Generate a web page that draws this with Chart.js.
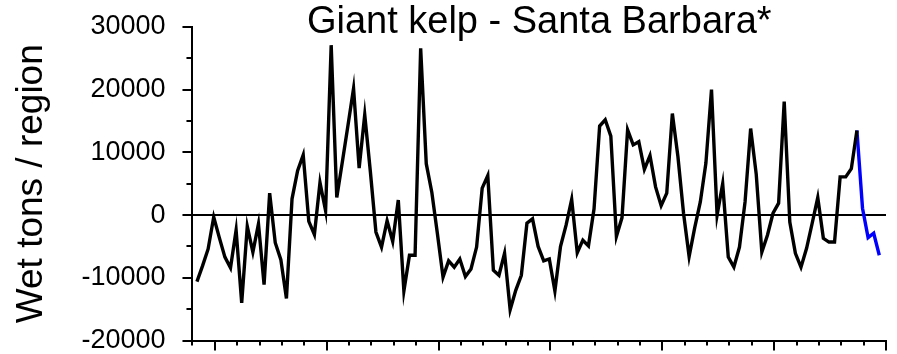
<!DOCTYPE html>
<html lang="en">
  <head>
    <meta charset="UTF-8" />
    <title>Giant kelp - Santa Barbara</title>
    <style>
      body { margin: 0; background: #fff; }
    </style>
  </head>
  <script src="https://cdn.jsdelivr.net/npm/chart.js@4/dist/chart.umd.min.js"></script>
  <body>
    <canvas id="kelp-chart" width="897" height="354"></canvas>
    <script>
      // quarterly anomalies, wet tons per region
      const kelpTons = [
        -10600, -8100, -5400, -300, -3600, -6700, -8400, -2400, -14000, -1800,
        -5900, -1400, -11100, 3500, -4400, -7100, -13300, 2600, 7100, 9600,
        -1000, -3100, 5200, 700, 27100, 2800, 8500, 14300, 20200, 7500,
        16000, 7000, -2700, -5100, -900, -4200, 2400, -12100, -6400, -6400,
        26600, 8200, 3600, -3000, -9900, -7300, -8300, -7000, -9800, -8600,
        -5100, 4300, 6300, -8800, -9600, -6100, -15100, -12000, -9600, -1300,
        -600, -5000, -7300, -7000, -12100, -5000, -1600, 2500, -6000, -4000,
        -4900, 1000, 14200, 15200, 12600, -3400, -400, 13600, 11200, 11700,
        7300, 9500, 4500, 1500, 3500, 16200, 9300, 300, -6600, -2000,
        2100, 8300, 20000, 0, 5000, -6700, -8300, -5100, 2100, 13800,
        6500, -5900, -3200, 300, 1900, 18100, -1100, -6100, -8300, -5300,
        -1300, 2800, -3700, -4300, -4300, 6100, 6100, 7400, 13500
      ];
      // last quarters, drawn in blue (starts at the last black point)
      const recentTons = [13500, 1100, -3600, -2900, -6400];

      const yTicks = [-20000, -10000, 0, 10000, 20000, 30000];
      const yMinorStep = 5000;
      const quartersPerTick = 4;
      const ticksPerMajor = 5;

      const fontFamily = "'Liberation Sans', Arial, Helvetica, sans-serif";

      const tickMarks = {
        id: 'tickMarks',
        afterDraw(chart) {
          const { ctx, chartArea, scales } = chart;
          const x = scales.x;
          const y = scales.y;
          ctx.save();
          ctx.strokeStyle = '#000';
          ctx.lineWidth = 2;
          ctx.beginPath();
          for (let v = y.min; v <= y.max; v += yMinorStep) {
            const py = Math.round(y.getPixelForValue(v));
            const len = yTicks.includes(v) ? 10 : 6;
            ctx.moveTo(chartArea.left - len, py);
            ctx.lineTo(chartArea.left, py);
          }
          const count = Math.round((x.max - x.min) / quartersPerTick);
          for (let k = 0; k <= count; k++) {
            const px = Math.round(x.getPixelForValue(x.min + k * quartersPerTick));
            const len = k % ticksPerMajor === 1 ? 10 : 5;
            ctx.moveTo(px, chartArea.bottom);
            ctx.lineTo(px, chartArea.bottom + len);
          }
          ctx.stroke();
          ctx.restore();
        }
      };

      new Chart(document.getElementById('kelp-chart').getContext('2d'), {
        type: 'line',
        data: {
          datasets: [
            {
              label: 'Giant kelp',
              data: kelpTons.map((v, i) => ({ x: i + 1, y: v })),
              borderColor: '#000',
              borderWidth: 3.4,
              pointRadius: 0,
              tension: 0
            },
            {
              label: 'Recent',
              data: recentTons.map((v, i) => ({ x: kelpTons.length + i, y: v })),
              borderColor: '#0000ff',
              borderWidth: 3.4,
              pointRadius: 0,
              tension: 0
            }
          ]
        },
        options: {
          responsive: false,
          animation: false,
          layout: {
            padding: { left: 0, right: 11, top: 0, bottom: 0 }
          },
          plugins: {
            legend: { display: false },
            tooltip: { enabled: false },
            title: {
              display: true,
              text: 'Giant kelp - Santa Barbara*',
              color: '#000',
              fullSize: false,
              font: { family: fontFamily, size: 38, weight: 'normal' },
              padding: { top: 0, bottom: -18.6 }
            }
          },
          scales: {
            x: {
              type: 'linear',
              min: 0.2,
              max: 124.2,
              ticks: { display: false },
              grid: { display: false, drawTicks: false },
              border: { display: true, color: '#000', width: 2 }
            },
            y: {
              min: -20000,
              max: 30000,
              afterBuildTicks: (scale) => {
                scale.ticks = yTicks.map((v) => ({ value: v }));
              },
              ticks: {
                color: '#000',
                padding: 0,
                callback: (v) => String(v),
                font: { family: fontFamily, size: 27, lineHeight: 1 }
              },
              grid: {
                drawTicks: true,
                tickLength: 27,
                tickColor: 'rgba(0,0,0,0)',
                lineWidth: 2,
                color: (ctx) => (ctx.tick && ctx.tick.value === 0 ? '#000' : 'rgba(0,0,0,0)')
              },
              border: { display: true, color: '#000', width: 2 },
              title: {
                display: true,
                text: 'Wet tons / region',
                color: '#000',
                font: { family: fontFamily, size: 37 },
                padding: { top: 10, bottom: 27 }
              }
            }
          }
        },
        plugins: [tickMarks]
      });
    </script>
  </body>
</html>
